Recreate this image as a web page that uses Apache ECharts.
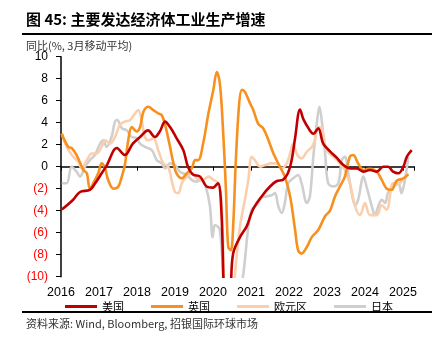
<!DOCTYPE html>
<html>
<head>
<meta charset="utf-8">
<script src="https://cdn.jsdelivr.net/npm/echarts@6/dist/echarts.min.js"></script>
<style>
html,body{margin:0;padding:0;background:#fff;}
#c{width:436px;height:340px;}
</style>
</head>
<body>
<div id="c"></div>
<script>
// Year ticks on the x axis
const yearTicks = [2016, 2017, 2018, 2019, 2020, 2021, 2022, 2023, 2024, 2025];
// y axis tick values
const yTicks = [-10, -8, -6, -4, -2, 0, 2, 4, 6, 8, 10];
const seriesNames = ['美国', '英国', '欧元区', '日本'];

// 美国 (US) [decimal year, % yoy 3mma]
const usData = [
  [2016.02,-3.9],[2016.32,-3.0],[2016.5,-2.3],[2016.76,-2.1],[2016.9,-1.5],[2017.07,-0.6],[2017.2,0.1],
  [2017.47,1.7],[2017.68,1.06],[2017.89,2.1],[2018.08,2.7],[2018.29,3.3],[2018.47,2.7],[2018.6,3.2],
  [2018.74,4.1],[2018.87,3.6],[2019.04,2.6],[2019.22,1.5],[2019.34,0.0],[2019.47,-0.7],[2019.66,-0.9],
  [2019.83,-1.8],[2020.0,-1.9],[2020.13,-1.5],[2020.22,-4.0],[2020.3,-12.5],[2020.4,-15.5],[2020.47,-11.0],
  [2020.53,-7.9],[2020.71,-6.4],[2020.89,-5.4],[2021.05,-3.9],[2021.28,-2.7],[2021.5,-1.8],[2021.68,-1.3],
  [2021.84,-1.2],[2021.97,-0.6],[2022.07,0.6],[2022.16,2.6],[2022.29,5.2],[2022.38,4.3],[2022.55,3.3],
  [2022.64,3.0],[2022.77,3.5],[2022.9,2.1],[2023.08,1.4],[2023.26,0.8],[2023.43,0.15],[2023.6,-0.15],
  [2023.78,-0.15],[2023.96,-0.45],[2024.13,-0.3],[2024.31,-0.45],[2024.48,0.0],[2024.61,0.0],
  [2024.74,-0.45],[2024.88,-0.6],[2025.01,0.0],[2025.1,0.9],[2025.23,1.5]
];
// 英国 (UK)
const ukData = [
  [2016.02,3.0],[2016.19,1.8],[2016.28,1.7],[2016.41,1.06],[2016.59,-0.3],[2016.68,-0.6],[2016.76,-2.0],
  [2016.85,-1.5],[2016.98,-0.6],[2017.07,0.3],[2017.16,-0.15],[2017.24,-1.2],[2017.38,-2.0],[2017.51,-1.8],
  [2017.6,-0.9],[2017.68,0.15],[2017.77,2.4],[2017.86,3.6],[2017.99,3.2],[2018.08,3.6],[2018.17,5.0],
  [2018.3,5.45],[2018.43,5.15],[2018.56,4.85],[2018.65,4.7],[2018.74,3.8],[2018.87,1.8],[2018.96,0.3],
  [2019.04,-0.6],[2019.18,-1.06],[2019.31,-0.6],[2019.44,-0.15],[2019.53,0.6],[2019.61,0.6],[2019.74,2.1],
  [2019.88,4.85],[2020.01,7.0],[2020.1,8.6],[2020.18,7.6],[2020.26,3.6],[2020.34,-2.1],[2020.4,-7.3],
  [2020.47,-7.6],[2020.53,-5.45],[2020.6,0.5],[2020.69,5.8],[2020.76,7.0],[2020.84,6.8],[2020.97,5.8],
  [2021.06,5.15],[2021.19,3.9],[2021.32,3.5],[2021.46,2.4],[2021.59,1.2],[2021.76,0.0],[2021.89,-0.9],
  [2022.03,-2.7],[2022.16,-5.75],[2022.24,-7.6],[2022.33,-7.9],[2022.47,-7.3],[2022.6,-6.4],[2022.77,-5.75],
  [2022.95,-4.5],[2023.08,-4.0],[2023.21,-2.7],[2023.34,-1.8],[2023.47,-0.9],[2023.6,0.9],[2023.69,1.06],
  [2023.82,0.3],[2023.96,-0.3],[2024.13,-0.2],[2024.31,-0.45],[2024.44,-1.2],[2024.57,-2.0],[2024.7,-2.1],
  [2024.83,-1.3],[2025.01,-1.06],[2025.14,-0.7]
];
// 欧元区 (Euro area)
const euData = [
  [2016.02,3.0],[2016.15,1.8],[2016.32,0.9],[2016.46,0.45],[2016.54,-0.15],[2016.68,0.6],[2016.81,1.2],
  [2016.94,1.2],[2017.07,1.8],[2017.16,2.4],[2017.29,2.1],[2017.42,2.7],[2017.55,3.8],[2017.68,4.1],
  [2017.82,4.25],[2017.95,4.85],[2018.03,5.15],[2018.12,4.25],[2018.21,2.7],[2018.3,2.4],[2018.43,2.6],
  [2018.56,1.5],[2018.69,0.3],[2018.82,0.0],[2018.91,-1.2],[2019.0,-2.3],[2019.09,-2.4],[2019.18,-1.5],
  [2019.31,-0.9],[2019.44,-0.6],[2019.57,-1.06],[2019.74,-1.2],[2019.88,-0.9],[2020.01,-1.2],[2020.14,-1.5],
  [2020.23,-3.6],[2020.3,-12.0],[2020.4,-19.0],[2020.5,-14.0],[2020.58,-9.7],[2020.71,-5.45],[2020.84,-3.0],
  [2020.93,-1.2],[2021.02,0.9],[2021.1,0.6],[2021.24,0.0],[2021.37,0.15],[2021.54,0.3],[2021.68,0.3],
  [2021.81,-0.15],[2021.94,0.3],[2022.03,1.2],[2022.11,2.1],[2022.2,1.2],[2022.33,0.75],[2022.47,1.36],
  [2022.6,1.8],[2022.68,2.4],[2022.77,3.6],[2022.86,3.5],[2022.99,1.5],[2023.17,0.9],[2023.34,0.3],
  [2023.47,-0.3],[2023.6,-1.5],[2023.74,-3.6],[2023.87,-4.4],[2024.0,-3.3],[2024.13,-4.4],[2024.31,-4.4],
  [2024.44,-3.5],[2024.57,-3.9],[2024.74,-1.5],[2024.87,-1.6],[2025.01,-1.1],[2025.14,-0.6]
];
// 日本 (Japan)
const jpData = [
  [2016.02,-1.5],[2016.15,-1.5],[2016.28,0.0],[2016.41,-0.45],[2016.5,-0.9],[2016.63,0.0],[2016.76,0.6],
  [2016.89,1.06],[2017.03,2.1],[2017.11,2.4],[2017.2,1.8],[2017.33,2.7],[2017.42,4.1],[2017.48,4.25],
  [2017.6,3.5],[2017.73,3.3],[2017.86,2.7],[2017.99,2.6],[2018.08,2.1],[2018.21,1.8],[2018.39,1.5],
  [2018.52,0.6],[2018.65,0.3],[2018.74,-0.15],[2018.87,0.3],[2019.0,0.15],[2019.13,-0.45],[2019.31,-0.75],
  [2019.44,-1.2],[2019.57,-1.36],[2019.7,-1.2],[2019.8,-1.7],[2019.92,-3.6],[2019.99,-6.4],[2020.05,-5.3],
  [2020.18,-5.75],[2020.3,-12.0],[2020.45,-18.0],[2020.6,-14.0],[2020.8,-9.7],[2020.93,-5.45],[2021.02,-3.9],
  [2021.15,-3.5],[2021.28,-2.8],[2021.41,-2.7],[2021.54,-2.6],[2021.63,-2.4],[2021.72,-3.6],[2021.81,-4.2],
  [2021.89,-3.3],[2021.98,-1.5],[2022.11,-1.06],[2022.24,-0.75],[2022.33,-1.5],[2022.47,-3.3],[2022.55,-2.7],
  [2022.64,0.9],[2022.73,3.9],[2022.8,5.45],[2022.86,4.25],[2022.95,1.2],[2023.03,-1.5],[2023.17,-1.8],
  [2023.3,-1.5],[2023.39,0.6],[2023.47,0.9],[2023.56,-0.6],[2023.65,-2.4],[2023.74,-3.5],[2023.82,-3.0],
  [2023.96,-0.9],[2024.04,-1.8],[2024.18,-3.6],[2024.26,-4.4],[2024.35,-3.6],[2024.44,-3.0],[2024.53,-3.3],
  [2024.61,-2.3],[2024.75,-1.8],[2024.88,-1.5],[2024.96,-2.4],[2025.05,-1.2],[2025.14,0.9]
];

const colors = ['#C00000', '#F7901E', '#FBCFAE', '#CFCFCF'];
const allData = [usData, ukData, euData, jpData];

const chart = echarts.init(document.getElementById('c'), null, {renderer: 'canvas'});
const FONT = 'Liberation Sans, Arial, sans-serif';
const CJK = '"Noto Sans CJK SC", sans-serif';

const option = {
  animation: false,
  backgroundColor: '#fff',
  grid: {left: 61, right: 21.6, top: 56.7, bottom: 63.3, containLabel: false},
  xAxis: [
    {
      type: 'value', min: yearTicks[0], max: 2025.3, interval: 1,
      position: 'bottom',
      axisLine: {show: false, onZero: false},
      axisTick: {show: false},
      splitLine: {show: false},
      axisLabel: {
        margin: 9, fontSize: 12.5, color: '#000', fontFamily: FONT,
        showMaxLabel: false,
        formatter: v => (yearTicks.indexOf(Math.round(v)) >= 0 && Math.abs(v - Math.round(v)) < 1e-6) ? String(Math.round(v)) : ''
      }
    },
    {
      type: 'value', min: yearTicks[0], max: 2025.3, interval: 1,
      position: 'bottom',
      axisLine: {show: true, onZero: true, lineStyle: {color: '#000', width: 1.5}},
      axisTick: {show: true, length: 4, lineStyle: {color: '#000', width: 1}},
      axisLabel: {show: false},
      splitLine: {show: false}
    }
  ],
  yAxis: {
    type: 'value', min: yTicks[0], max: yTicks[yTicks.length - 1], interval: 2,
    axisLine: {show: true, onZero: false, lineStyle: {color: '#000', width: 1.5}},
    axisTick: {show: true, length: 5, lineStyle: {color: '#000', width: 1}},
    splitLine: {show: false},
    axisLabel: {
      margin: 13, fontSize: 12, fontFamily: FONT,
      color: v => (Number(v) < 0 ? '#FF0000' : '#000'),
      formatter: v => (v < 0 ? '(' + (-v) + ')' : String(v))
    }
  },
  legend: {
    left: 60, top: 296,
    itemWidth: 32, itemHeight: 3, itemGap: 27,
    icon: 'rect',
    textStyle: {fontSize: 11, color: '#000', fontFamily: CJK},
    data: seriesNames
  },
  series: seriesNames.map((n, i) => ({
    name: n, type: 'line', xAxisIndex: 0,
    data: allData[i],
    showSymbol: false, symbol: 'none',
    smooth: 0.35,
    clip: true,
    z: i === 0 ? 5 : 2,
    lineStyle: {color: colors[i], width: 2.6},
    itemStyle: {color: colors[i]}
  })).reverse(),
  graphic: [
    {type: 'text', left: 26, top: 12, style: {text: '图 45: 主要发达经济体工业生产增速', font: 'bold 15px "Noto Sans CJK SC", sans-serif', fill: '#000'}},
    {type: 'rect', shape: {x: 22, y: 33, width: 410, height: 2}, style: {fill: '#000'}},
    {type: 'text', left: 26, top: 40, style: {text: '同比(%, 3月移动平均)', font: '11px "Noto Sans CJK SC", sans-serif', fill: '#333'}},
    {type: 'rect', shape: {x: 22, y: 311, width: 410, height: 2}, style: {fill: '#000'}},
    {type: 'text', left: 26, top: 318, style: {text: '资料来源: Wind, Bloomberg, 招银国际环球市场', font: '11px "Noto Sans CJK SC", sans-serif', fill: '#333'}}
  ]
};
chart.setOption(option);
</script>
</body>
</html>
